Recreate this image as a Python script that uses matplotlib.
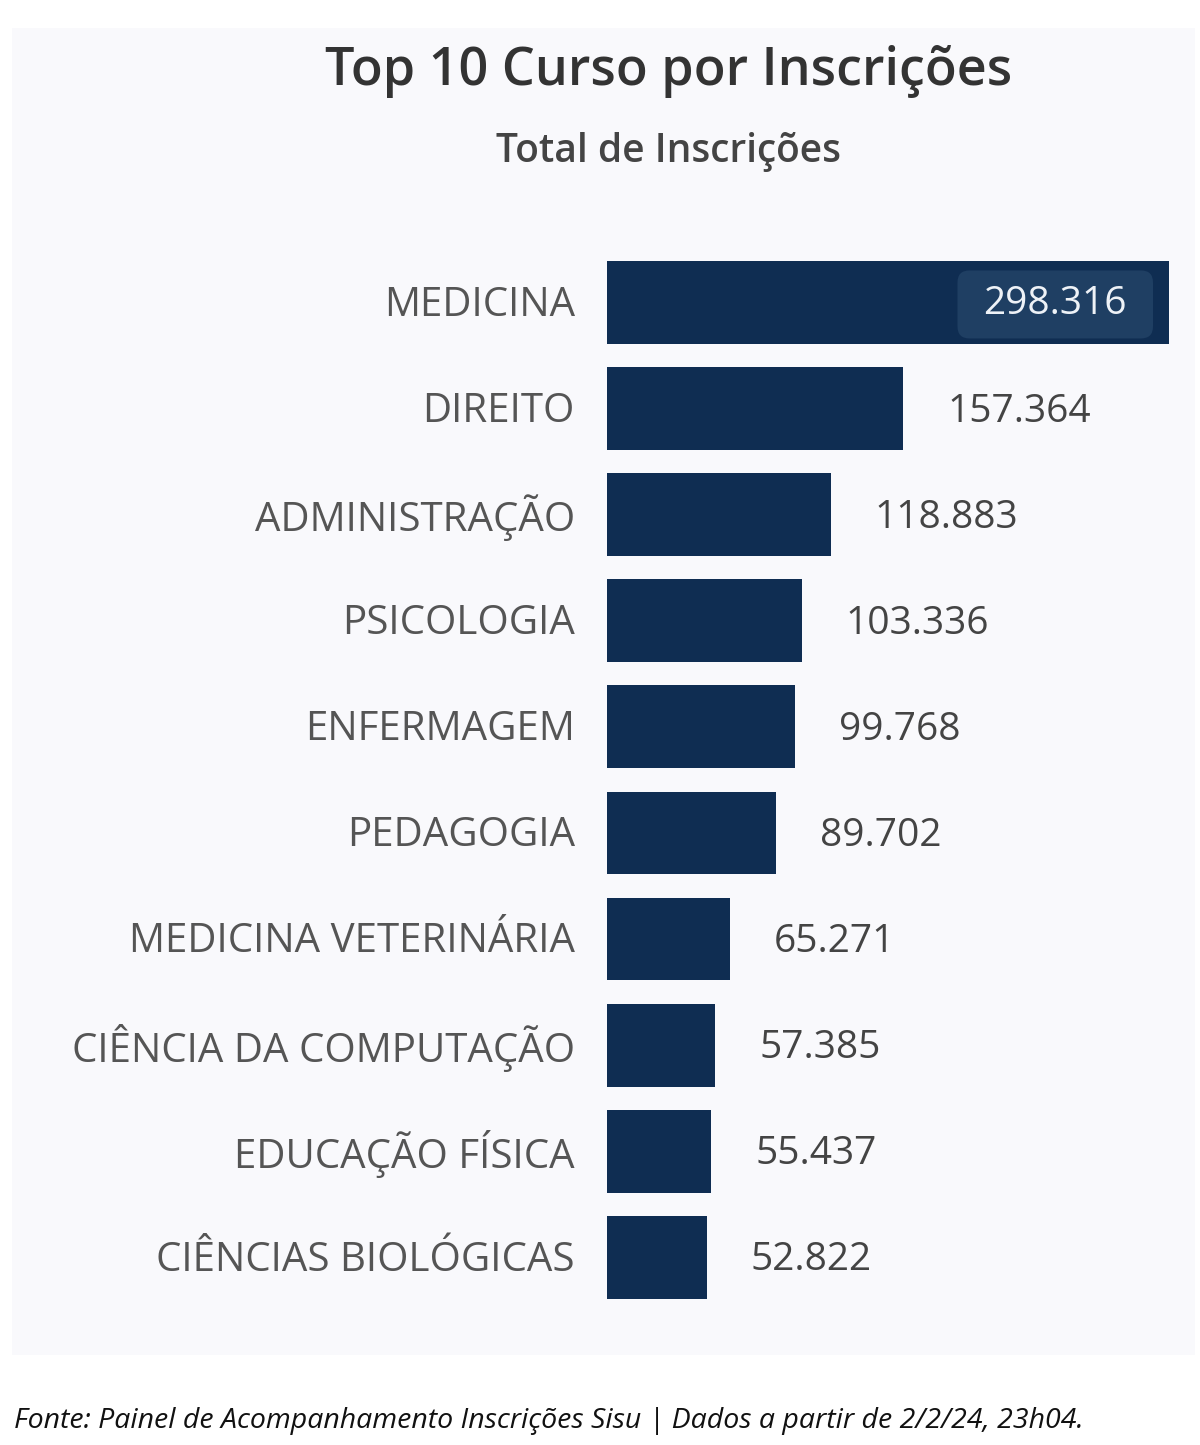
import matplotlib
matplotlib.use('Agg')
import matplotlib.pyplot as plt
from matplotlib.patches import Rectangle, FancyBboxPatch

plt.rcParams['font.family'] = ['Open Sans', 'DejaVu Sans']

cursos = ['MEDICINA', 'DIREITO', 'ADMINISTRAÇÃO', 'PSICOLOGIA', 'ENFERMAGEM',
          'PEDAGOGIA', 'MEDICINA VETERINÁRIA', 'CIÊNCIA DA COMPUTAÇÃO',
          'EDUCAÇÃO FÍSICA', 'CIÊNCIAS BIOLÓGICAS']
inscricoes = [298316, 157364, 118883, 103336, 99768, 89702, 65271, 57385, 55437, 52822]
rotulos = ['298.316', '157.364', '118.883', '103.336', '99.768', '89.702',
           '65.271', '57.385', '55.437', '52.822']

W, H = 1200, 1445
BAR = '#0f2d52'
PANEL = '#f9f9fc'
TXT = '#555555'

fig = plt.figure(figsize=(W / 100, H / 100), dpi=100)
fig.patch.set_facecolor('white')
# painel de fundo
fig.patches.append(Rectangle((12 / W, 1 - 1355 / H), (1195 - 12) / W, (1355 - 28) / H,
                             transform=fig.transFigure, facecolor=PANEL, edgecolor='none', zorder=-5))

ax = fig.add_axes([607 / W, 1 - 1310.4 / H, 588 / W, 1061 / H])
ax.set_facecolor('none')
y = list(range(len(cursos)))
ax.barh(y, inscricoes, height=0.78, color=BAR, zorder=2)
ax.set_xlim(0, 298316 * 588 / 562)
ax.set_ylim(len(cursos) - 0.5, -0.5)
ax.axis('off')

topo = None
for i, (c, v, r) in enumerate(zip(cursos, inscricoes, rotulos)):
    ax.annotate(c, xy=(0, i), xytext=(-32, -3), textcoords='offset pixels',
                ha='right', va='center', fontsize=29, color=TXT, annotation_clip=False)
    if i == 0:
        topo = ax.annotate(r, xy=(v, i), xytext=(-42, -2), textcoords='offset pixels',
                           ha='right', va='center', fontsize=28, color='#eef2f7', zorder=5)
    else:
        ax.annotate(r, xy=(v, i), xytext=(44, -3), textcoords='offset pixels',
                    ha='left', va='center', fontsize=28, color='#444444')

fig.text(669 / W, 1 - 72 / H, 'Top 10 Curso por Inscrições', ha='center', va='center',
         fontsize=37.5, fontweight='semibold', color='#333333')
fig.text(669 / W, 1 - 152 / H, 'Total de Inscrições', ha='center', va='center',
         fontsize=28, fontweight='semibold', color='#444444')
fig.text(14 / W, 1 - 1421 / H,
         'Fonte: Painel de Acompanhamento Inscrições Sisu | Dados a partir de 2/2/24, 23h04.',
         ha='left', va='center', fontsize=20.5, style='italic', color='#111111')

# caixa arredondada atrás do rótulo da maior barra
rend = fig.canvas.get_renderer()
bb = topo.get_window_extent(rend)
cy = (bb.y0 + bb.y1) / 2
caixa = FancyBboxPatch((bb.x0 - 26, cy - 34), bb.width + 52, 68,
                       boxstyle='round,pad=0,rounding_size=12', transform=None,
                       fc='#1f3f63', ec='none', zorder=4)
ax.add_artist(caixa)

fig.savefig('out.png', dpi=100, facecolor='white')
